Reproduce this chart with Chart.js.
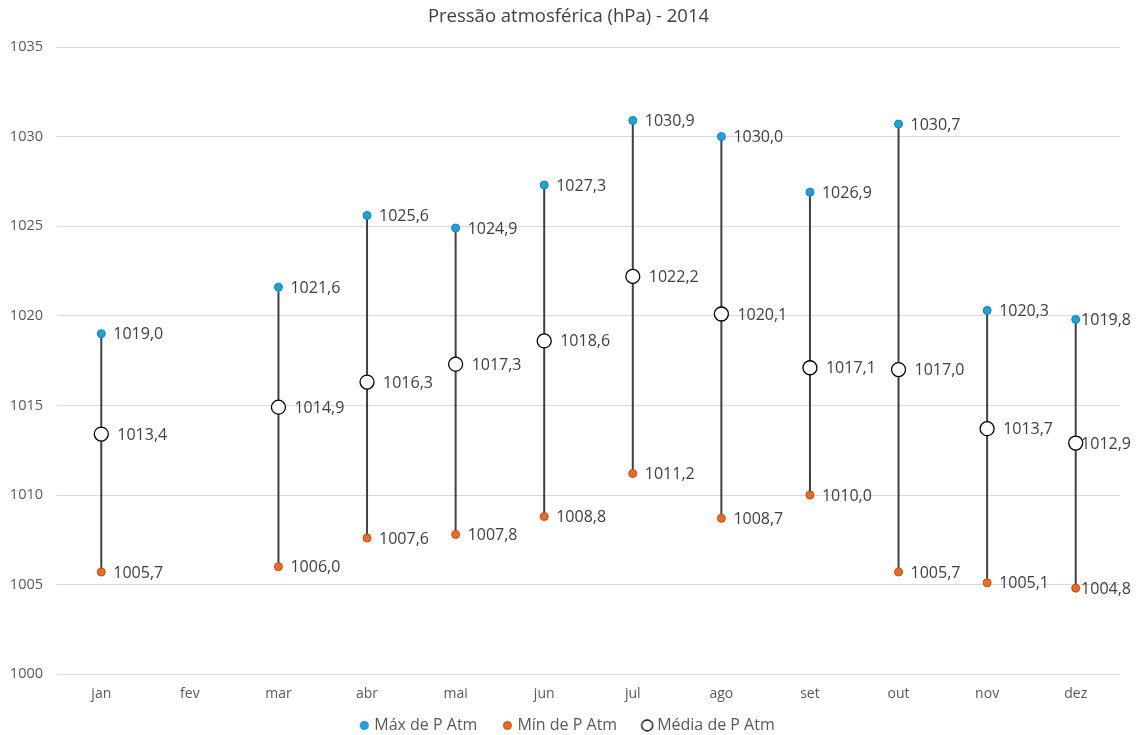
<!DOCTYPE html>
<html lang="pt">
<head>
<meta charset="utf-8">
<title>Pressão atmosférica (hPa) - 2014</title>
<script src="https://cdn.jsdelivr.net/npm/chart.js@4/dist/chart.umd.min.js"></script>
<style>
  html, body { margin: 0; padding: 0; background: #ffffff; }
  #wrap { position: relative; width: 1137px; height: 735px; }
</style>
</head>
<body>
<div id="wrap"><canvas id="chart"></canvas></div>
<script>
// Meses (fev sem registo)
const months = ['jan', 'fev', 'mar', 'abr', 'mai', 'jun', 'jul', 'ago', 'set', 'out', 'nov', 'dez'];

// Pressão atmosférica mensal, hPa
const maxPressure  = [1019.0, null, 1021.6, 1025.6, 1024.9, 1027.3, 1030.9, 1030.0, 1026.9, 1030.7, 1020.3, 1019.8];
const minPressure  = [1005.7, null, 1006.0, 1007.6, 1007.8, 1008.8, 1011.2, 1008.7, 1010.0, 1005.7, 1005.1, 1004.8];
const meanPressure = [1013.4, null, 1014.9, 1016.3, 1017.3, 1018.6, 1022.2, 1020.1, 1017.1, 1017.0, 1013.7, 1012.9];

// Eixo vertical
const yMin = 1000;
const yMax = 1035;
const yStep = 5;

const FONT = "'Open Sans', 'Noto Sans', sans-serif";
const BLUE = '#13a6e4';
const BLUE_EDGE = '#1b7db0';
const ORANGE = '#f26a1b';
const ORANGE_EDGE = '#b3501a';

const fmt = v => v.toFixed(1).replace('.', ',');

// Small marker images for the legend
function markerImage(r, fill, stroke, lw) {
  const size = Math.ceil(2 * r + lw + 2);
  const c = document.createElement('canvas');
  c.width = size; c.height = size;
  const g = c.getContext('2d');
  g.beginPath();
  g.arc(size / 2, size / 2, r, 0, Math.PI * 2);
  g.fillStyle = fill;
  g.fill();
  g.lineWidth = lw;
  g.strokeStyle = stroke;
  g.stroke();
  return c;
}
const legendMarkers = [
  markerImage(4, BLUE, BLUE_EDGE, 1),
  markerImage(4, ORANGE, ORANGE_EDGE, 1),
  markerImage(5.5, '#ffffff', '#000000', 1.3)
];

// Centre title and legend on the full canvas width, drop the legend to
// the bottom edge and let the x labels run down over the legend box
const boxPlacement = {
  id: 'boxPlacement',
  afterLayout(chart) {
    const half = chart.options.layout.padding.right / 2;
    [chart.titleBlock, chart.legend].forEach(b => {
      if (!b) return;
      b.left += half;
      b.right += half;
    });
    if (chart.legend) {
      chart.legend.top += 8.4;
      chart.legend.bottom += 8.4;
    }
    const x = chart.scales.x;
    x.bottom = chart.height - 20;
    x.height = x.bottom - x.top;
  }
};

// Vertical high-low line from min to max for each month
const highLowLines = {
  id: 'highLowLines',
  beforeDatasetsDraw(chart) {
    const { ctx, scales: { x, y } } = chart;
    ctx.save();
    ctx.strokeStyle = '#404040';
    ctx.lineWidth = 2;
    months.forEach((m, i) => {
      const hi = maxPressure[i], lo = minPressure[i];
      if (hi == null || lo == null) return;
      const px = x.getPixelForValue(i);
      ctx.beginPath();
      ctx.moveTo(px, y.getPixelForValue(hi));
      ctx.lineTo(px, y.getPixelForValue(lo));
      ctx.stroke();
    });
    ctx.restore();
  }
};

// Value labels placed to the right of each marker
const valueLabels = {
  id: 'valueLabels',
  afterDatasetsDraw(chart) {
    const { ctx } = chart;
    ctx.save();
    ctx.font = '16px ' + FONT;
    ctx.fillStyle = '#404040';
    ctx.textAlign = 'left';
    ctx.textBaseline = 'middle';
    chart.data.datasets.forEach((ds, di) => {
      const meta = chart.getDatasetMeta(di);
      const gap = ds.labelGap;
      ds.data.forEach((v, i) => {
        if (v == null) return;
        const pt = meta.data[i];
        const txt = fmt(v);
        const w = ctx.measureText(txt).width;
        let tx = pt.x + gap;
        if (tx + w > chart.width - 6) tx = chart.width - 6 - w;
        ctx.fillText(txt, tx, pt.y + 1);
      });
    });
    ctx.restore();
  }
};

new Chart(document.getElementById('chart'), {
  type: 'line',
  data: {
    labels: months,
    datasets: [
      {
        label: 'Máx de P Atm',
        data: maxPressure,
        showLine: false,
        pointRadius: 4,
        pointHoverRadius: 4,
        pointBackgroundColor: BLUE,
        pointBorderColor: BLUE_EDGE,
        pointBorderWidth: 1,
        backgroundColor: BLUE,
        borderColor: BLUE_EDGE,
        labelGap: 12
      },
      {
        label: 'Mín de P Atm',
        data: minPressure,
        showLine: false,
        pointRadius: 4,
        pointHoverRadius: 4,
        pointBackgroundColor: ORANGE,
        pointBorderColor: ORANGE_EDGE,
        pointBorderWidth: 1,
        backgroundColor: ORANGE,
        borderColor: ORANGE_EDGE,
        labelGap: 12
      },
      {
        label: 'Média de P Atm',
        data: meanPressure,
        showLine: false,
        pointRadius: 7,
        pointHoverRadius: 7,
        pointBackgroundColor: '#ffffff',
        pointBorderColor: '#000000',
        pointBorderWidth: 1.3,
        backgroundColor: '#ffffff',
        borderColor: '#000000',
        labelGap: 16
      }
    ]
  },
  options: {
    responsive: true,
    maintainAspectRatio: false,
    animation: false,
    layout: { padding: { top: 0, left: 0, right: 17, bottom: 0 } },
    plugins: {
      title: {
        display: true,
        text: 'Pressão atmosférica (hPa) - 2014',
        color: '#404040',
        font: { family: FONT, size: 18.5, weight: 'normal' },
        padding: { top: 5.5, bottom: 19.3 }
      },
      legend: {
        position: 'bottom',
        labels: {
          color: '#595959',
          font: { family: FONT, size: 16 },
          usePointStyle: true,
          boxWidth: 4,
          boxHeight: 4,
          padding: 28,
          generateLabels(chart) {
            return chart.data.datasets.map((ds, i) => ({
              text: ds.label,
              fillStyle: ds.pointBackgroundColor,
              strokeStyle: ds.pointBorderColor,
              lineWidth: 1,
              pointStyle: legendMarkers[i],
              hidden: false,
              datasetIndex: i,
              fontColor: '#595959'
            }));
          }
        }
      },
      tooltip: { enabled: false }
    },
    scales: {
      x: {
        offset: true,
        grid: { display: false, drawTicks: false },
        border: { display: false },
        ticks: {
          color: '#595959',
          font: { family: FONT, size: 14 },
          padding: 11,
          maxRotation: 0
        },
        afterFit(scale) { scale.height = 6.8; }
      },
      y: {
        min: yMin,
        max: yMax,
        grid: { color: '#d9d9d9', lineWidth: 1, drawTicks: false },
        border: { display: false },
        ticks: {
          stepSize: yStep,
          color: '#595959',
          font: { family: FONT, size: 14.5 },
          padding: 14,
          callback: v => String(v)
        },
        afterFit(scale) { scale.width = 57; }
      }
    }
  },
  plugins: [boxPlacement, highLowLines, valueLabels]
});
</script>
</body>
</html>
